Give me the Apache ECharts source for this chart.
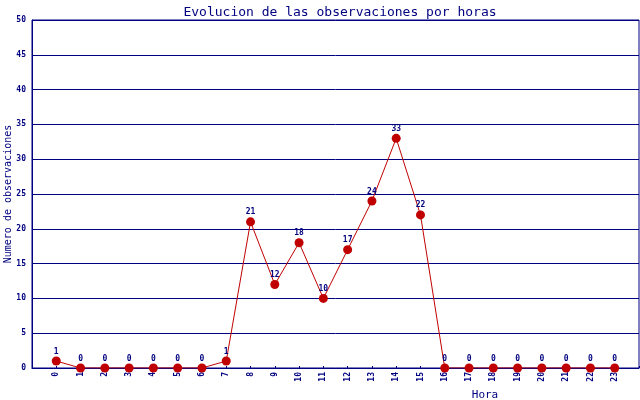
<!DOCTYPE html>
<html>
<head>
<meta charset="utf-8">
<script src="https://cdn.jsdelivr.net/npm/echarts@6/dist/echarts.min.js"></script>
<style>html,body{margin:0;padding:0;background:#fff;}#c{width:640px;height:400px;}</style>
</head>
<body>
<div id="c"></div>
<script>
const titleText = 'Evolucion de las observaciones por horas';
const xName = 'Hora';
const yName = 'Numero de observaciones';
const hours = [0,1,2,3,4,5,6,7,8,9,10,11,12,13,14,15,16,17,18,19,20,21,22,23];
const counts = [1,0,0,0,0,0,0,1,21,12,18,10,17,24,33,22,0,0,0,0,0,0,0,0];

const NAVY = '#000080';
const RED = '#c00000';
const FONT = 'DejaVu Sans Mono';
const chart = echarts.init(document.getElementById('c'));
chart.setOption({
  backgroundColor: '#fff',
  animation: false,
  title: [
    { text: titleText, left: 335, top: 1, textAlign: 'center',
      textStyle: { color: NAVY, fontFamily: FONT, fontSize: 13, fontWeight: 'normal' } },
    { text: xName, left: 480, top: 385, textAlign: 'center',
      textStyle: { color: NAVY, fontFamily: FONT, fontSize: 11, fontWeight: 'normal' } }
  ],
  grid: { left: 32, right: 1, top: 20, bottom: 32, show: true, borderColor: NAVY, borderWidth: 1,
    containLabel: false, outerBoundsMode: 'none' },
  xAxis: {
    type: 'value', min: -1, max: 24, interval: 1,
    axisLine: { onZero: false, lineStyle: { color: NAVY, width: 1 } },
    axisTick: { inside: true, length: 2, lineStyle: { color: NAVY } },
    splitLine: { show: false },
    axisLabel: {
      rotate: 90, color: NAVY, fontFamily: FONT, fontSize: 8, fontWeight: 'bold', margin: 4,
      formatter: v => (v >= hours[0] && v <= hours[hours.length - 1]) ? String(v) : ''
    }
  },
  yAxis: {
    type: 'value', min: 0, max: 50, interval: 5,
    name: yName, nameLocation: 'middle', nameGap: 19, nameMoveOverlap: false,
    nameTextStyle: { color: NAVY, fontFamily: FONT, fontSize: 10 },
    axisLine: { show: true, onZero: false, lineStyle: { color: NAVY, width: 1 } },
    axisTick: { show: false },
    splitLine: { show: true, lineStyle: { color: NAVY, width: 1 } },
    axisLabel: { color: NAVY, fontFamily: FONT, fontSize: 8, fontWeight: 'bold', margin: 6 }
  },
  series: [{
    type: 'line',
    data: hours.map((h, i) => [h, counts[i]]),
    color: RED,
    lineStyle: { color: RED, width: 1 },
    symbol: 'circle', symbolSize: 9,
    itemStyle: { color: RED },
    label: { show: true, position: 'top', distance: 1, color: NAVY, fontFamily: FONT, fontSize: 8, fontWeight: 'bold',
      formatter: p => String(p.value[1]) }
  }]
});
</script>
</body>
</html>
